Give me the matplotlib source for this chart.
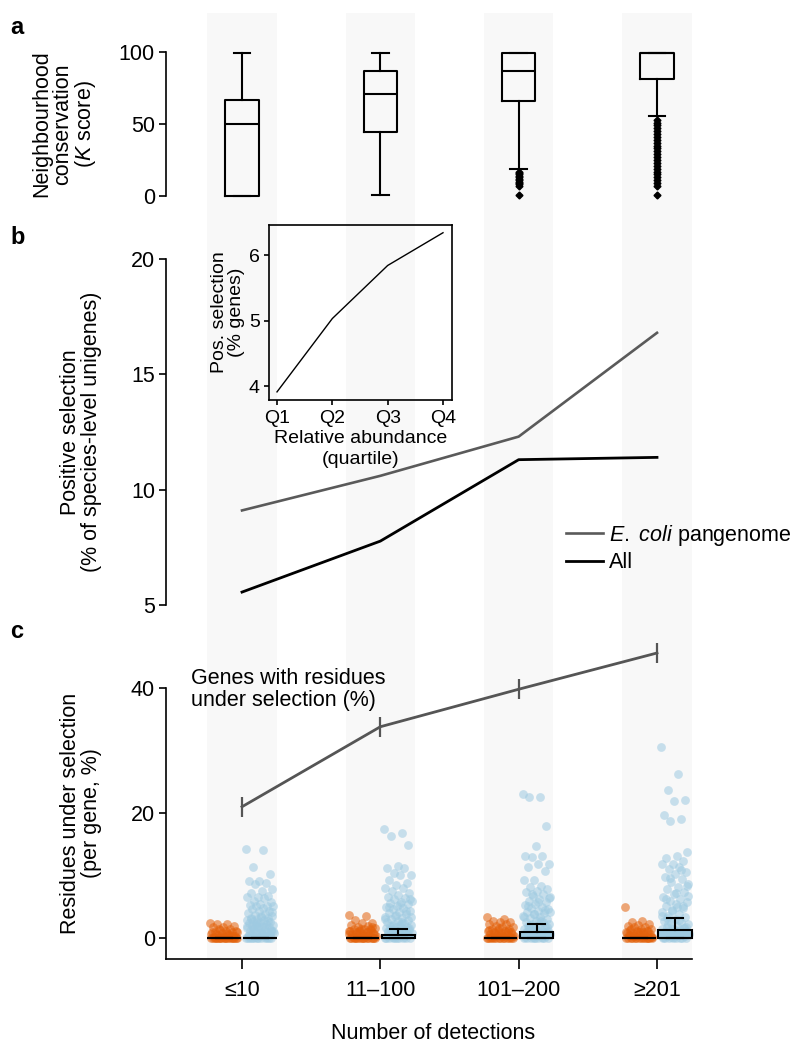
import numpy as np
import matplotlib
matplotlib.use("Agg")
import matplotlib.pyplot as plt

plt.rcParams['font.family'] = ['Liberation Sans', 'DejaVu Sans']
plt.rcParams['mathtext.fontset'] = 'custom'
plt.rcParams['mathtext.rm'] = 'Liberation Sans'
plt.rcParams['mathtext.it'] = 'Liberation Sans:italic'

# ---- data ----
categories = ["≤10", "11–100", "101–200", "≥201"]

# panel a: box summaries of K score
k_q1 = [0, 44.6, 66, 81]
k_med = [50, 71, 87, 99]
k_q3 = [66.7, 87, 99, 99]
k_whislo = [0, 0.5, 19, 55.6]
k_whishi = [99, 99, 99, 99]
k_fliers = [
    [],
    [],
    [17, 16, 15, 14, 13, 12, 11, 10, 9, 8, 7, 1],
    [53, 51, 49, 47, 45, 43, 41, 39, 37, 35, 33, 31, 29, 27, 25, 23, 21,
     19, 17, 15, 13, 11, 9, 7, 1],
]

# panel b
ecoli_pos = [9.1, 10.6, 12.3, 16.8]
all_pos = [5.56, 7.77, 11.3, 11.4]

# inset
quartiles = ["Q1", "Q2", "Q3", "Q4"]
quartile_pos = [3.91, 5.03, 5.84, 6.34]

# panel c: line with error bars
genes_sel = [21.0, 33.8, 39.8, 45.6]
genes_sel_err = [1.6, 1.6, 1.6, 1.6]

# panel c: per-gene residues (orange / blue groups)
orange_vals = [
    [2.4, 2.2, 2.2, 2.0, 1.8, 1.7, 1.5, 1.4, 1.2, 1.1, 1.0, 0.9, 0.8, 0.7,
     0.6, 0.5, 0.4, 0.3, 0.2, 0.1, 1.3, 1.0, 0.8, 0.6, 0.4, 0.2, 0.9, 0.5,
     0, 0, 0, 0, 0, 0, 0, 0, 0, 0, 0, 0, 0, 0, 0, 0, 0, 0],
    [3.7, 3.5, 2.9, 2.4, 2.4, 2.1, 1.9, 1.8, 1.6, 1.5, 1.4, 1.3, 1.2, 1.1,
     1.0, 0.9, 0.8, 0.7, 0.6, 0.5, 0.4, 0.3, 0.2, 0.1, 1.7, 1.5, 1.2, 1.0,
     0.8, 0.6, 0.4, 0.2, 1.4, 1.1, 0.7, 0.3, 0, 0, 0, 0, 0, 0, 0, 0, 0, 0,
     0, 0, 0, 0, 0, 0],
    [3.4, 3.0, 2.8, 2.6, 2.5, 2.3, 2.2, 2.0, 1.8, 1.7, 1.5, 1.4, 1.3, 1.2,
     1.1, 1.0, 0.9, 0.8, 0.7, 0.6, 0.5, 0.4, 0.3, 0.2, 0.1, 1.6, 1.3, 1.0,
     0.8, 0.6, 0.4, 0.2, 1.1, 0.7, 0, 0, 0, 0, 0, 0, 0, 0, 0, 0, 0, 0, 0,
     0],
    [4.9, 2.8, 2.5, 2.3, 2.1, 2.0, 1.8, 1.7, 1.5, 1.4, 1.3, 1.2, 1.1, 1.0,
     0.9, 0.8, 0.7, 0.6, 0.5, 0.4, 0.3, 0.2, 0.1, 1.5, 1.2, 1.0, 0.8, 0.6,
     0.4, 0.2, 0.9, 0.5, 0, 0, 0, 0, 0, 0, 0, 0, 0, 0, 0, 0, 0, 0],
]
blue_vals = [
    [14.3, 14.1, 11.3, 10.2, 9.2, 9.2, 8.8, 8.7, 7.9, 7.5, 7.2, 6.7, 6.5,
     6.5, 6.4, 6.0, 5.8, 5.5, 5.3, 5.1, 5.1, 5.1, 4.8, 4.6, 4.3, 4.3, 4.0,
     3.9, 3.7, 3.5, 3.4, 3.2, 3.2, 3.0, 2.9, 2.9, 2.7, 2.6, 2.5, 2.4, 2.3,
     2.2, 2.1, 2.0, 1.9, 1.8, 1.7, 1.6, 1.5, 1.4, 1.3, 1.2, 1.1, 1.0, 0.9,
     0.8, 0.7, 0.6, 0.5, 0.4, 0.3, 0.2, 0.1, 4.1, 3.6, 3.1, 2.8, 2.4, 2.0,
     1.7, 1.4, 1.1, 0.8, 0.5, 0.3, 1.9, 1.2, 0.6, 0, 0, 0, 0, 0, 0, 0, 0,
     0, 0, 0, 0],
    [17.5, 16.8, 16.3, 14.9, 11.5, 11.2, 11.2, 10.4, 10.1, 10.1, 9.3, 8.8,
     8.5, 8.0, 8.0, 7.5, 7.2, 6.9, 6.6, 6.4, 6.2, 6.0, 5.8, 5.6, 5.4, 5.2,
     5.0, 4.8, 4.6, 4.4, 4.2, 4.0, 3.8, 3.6, 3.4, 3.2, 3.0, 2.9, 2.7, 2.6,
     2.4, 2.3, 2.1, 2.0, 1.9, 1.8, 1.7, 1.6, 1.5, 1.4, 1.3, 1.2, 1.1, 1.0,
     0.9, 0.8, 0.7, 0.6, 0.5, 0.4, 0.3, 0.2, 0.1, 6.3, 5.5, 4.9, 4.3, 3.7,
     3.1, 2.5, 2.0, 1.6, 1.2, 0.9, 0.6, 0.3, 3.4, 2.2, 1.3, 0.7, 0, 0, 0,
     0, 0, 0, 0, 0, 0, 0],
    [23.0, 22.5, 22.5, 17.9, 14.7, 13.2, 13.2, 13.0, 11.9, 11.8, 11.3, 10.7,
     9.3, 9.3, 8.4, 8.2, 7.9, 7.6, 7.3, 7.0, 6.8, 6.5, 6.2, 6.0, 5.8, 5.5,
     5.3, 5.0, 4.8, 4.6, 4.4, 4.2, 4.0, 3.8, 3.6, 3.4, 3.2, 3.0, 2.8, 2.6,
     2.5, 2.3, 2.2, 2.0, 1.9, 1.8, 1.6, 1.5, 1.4, 1.3, 1.2, 1.1, 1.0, 0.9,
     0.8, 0.7, 0.6, 0.5, 0.4, 0.3, 0.2, 0.1, 7.1, 6.4, 5.7, 5.1, 4.5, 3.9,
     3.3, 2.7, 2.1, 1.7, 1.3, 0.9, 0.5, 0.2, 4.2, 2.9, 1.8, 1.0, 0, 0, 0,
     0, 0, 0, 0, 0, 0],
    [30.6, 26.3, 23.7, 22.1, 22.0, 19.7, 19.0, 18.8, 13.7, 13.2, 12.8, 12.4,
     11.9, 11.8, 11.4, 11.0, 10.6, 10.2, 9.8, 9.4, 9.0, 8.6, 8.2, 7.8, 7.4,
     7.0, 6.6, 6.3, 6.0, 5.7, 5.4, 5.1, 4.8, 4.5, 4.2, 3.9, 3.6, 3.3, 3.0,
     2.8, 2.6, 2.4, 2.2, 2.0, 1.8, 1.6, 1.5, 1.4, 1.3, 1.2, 1.1, 1.0, 0.9,
     0.8, 0.7, 0.6, 0.5, 0.4, 0.3, 0.2, 0.1, 10.9, 9.6, 8.4, 7.2, 6.2, 5.2,
     4.4, 3.6, 2.9, 2.3, 1.8, 1.3, 0.9, 0.5, 0.2, 6.8, 4.9, 3.2, 1.6, 0, 0,
     0, 0, 0, 0, 0, 0],
]
# box summaries for the blue groups (orange ones are all zero)
blue_q3 = [0, 0.55, 0.9, 1.3]
blue_whishi = [0, 1.5, 2.25, 3.15]

# ---- layout helpers ----
W, H = 800, 1053
fig = plt.figure(figsize=(W / 100, H / 100), dpi=100)


def box(l, t, r, b):
    return [l / W, 1 - b / H, (r - l) / W, (b - t) / H]


x = np.arange(len(categories))
xlim = ((166 - 242) / 138.33, 3 + (700 - 657) / 138.33)
LW = 1.2
FS = 15.5
ORANGE = "#e3620c"
BLUE = "#9ecae1"
GRAY = "#555555"

# background bands
bg = fig.add_axes(box(166, 13, 700, 959), zorder=-5)
bg.set_xlim(xlim)
bg.set_ylim(0, 1)
bg.axis("off")
for xi in x:
    bg.axvspan(xi - 0.25, xi + 0.25, color="#f8f8f8", lw=0)


def style_axis(ax, lo, hi):
    ax.patch.set_alpha(0)
    for s in ["top", "right", "bottom"]:
        ax.spines[s].set_visible(False)
    ax.spines["left"].set_linewidth(LW)
    ax.spines["left"].set_bounds(lo, hi)
    ax.set_xlim(xlim)
    ax.set_xticks([])
    ax.tick_params(axis="y", length=5, width=LW, pad=3, labelsize=FS)


# ---- panel a ----
ax_a = fig.add_axes(box(166, 40, 700, 205))
style_axis(ax_a, 0, 100)
ax_a.set_ylim(-(205 - 196) / 1.44, 100 + (52 - 40) / 1.44)
ax_a.set_yticks([0, 50, 100])
stats_a = []
for i in range(len(categories)):
    stats_a.append(dict(med=k_med[i], q1=k_q1[i], q3=k_q3[i],
                        whislo=k_whislo[i], whishi=k_whishi[i],
                        fliers=k_fliers[i]))
lp = dict(color="black", lw=1.5)
ax_a.bxp(stats_a, positions=x, widths=0.24, boxprops=lp, whiskerprops=lp,
         capprops=lp, medianprops=lp,
         flierprops=dict(marker="D", markersize=3.5, markerfacecolor="black",
                         markeredgecolor="black"),
         manage_ticks=False)
ax_a.set_ylabel("Neighbourhood\nconservation\n($K$ score)", fontsize=FS,
                linespacing=1.0)
ax_a.yaxis.set_label_coords(98 / W, 1 - 124 / H, transform=fig.transFigure)

# ---- panel b ----
ax_b = fig.add_axes(box(166, 240, 700, 615))
style_axis(ax_b, 5, 20)
ax_b.set_ylim(5 - 10 / 23.07, 20 + 19 / 23.07)
ax_b.set_yticks([5, 10, 15, 20])
ax_b.plot(x, ecoli_pos, color="#5a5a5a", lw=1.9, label=r"$\it{E.\ coli}$ pangenome")
ax_b.plot(x, all_pos, color="black", lw=2.0, label="All")
ax_b.set_ylabel("Positive selection\n(% of species-level unigenes)", fontsize=FS,
                linespacing=1.0)
ax_b.yaxis.set_label_coords(102 / W, 1 - 432 / H, transform=fig.transFigure)
fig.legend(*ax_b.get_legend_handles_labels(), loc="center left",
           bbox_to_anchor=(566 / W, 1 - 548 / H), frameon=False, fontsize=FS,
           handlelength=1.7, handletextpad=0.3, labelspacing=0.2,
           borderpad=0, borderaxespad=0)

# inset
ax_in = fig.add_axes(box(269, 225, 452, 400))
ax_in.patch.set_alpha(0)
for s in ax_in.spines.values():
    s.set_linewidth(LW)
ax_in.set_xlim((269 - 277) / 55.33, 3 + (452 - 443) / 55.33)
ax_in.set_ylim(4 - 14 / 65.5, 6 + 30 / 65.5)
ax_in.plot(range(len(quartiles)), quartile_pos, color="black", lw=1.0)
ax_in.set_xticks(range(len(quartiles)))
ax_in.set_xticklabels(quartiles)
ax_in.set_yticks([4, 5, 6])
ax_in.tick_params(length=3.5, width=LW, pad=3, labelsize=14)
ax_in.tick_params(axis="x", pad=4)
ax_in.set_xlabel("Relative abundance\n(quartile)", fontsize=14,
                 linespacing=1.3, labelpad=2)
ax_in.set_ylabel("Pos. selection\n(% genes)", fontsize=14, linespacing=1.0,
                 labelpad=3)

# ---- panel c ----
ax_c = fig.add_axes(box(166, 640, 700, 959))
style_axis(ax_c, -(959 - 938) / 6.25, 40)
ax_c.spines["bottom"].set_visible(True)
ax_c.spines["bottom"].set_linewidth(LW)
ax_c.spines["bottom"].set_bounds(xlim[0], 3.25)
ax_c.set_ylim(-(959 - 938) / 6.25, 40 + (688 - 640) / 6.25)
ax_c.set_yticks([0, 20, 40])
ax_c.set_xticks(x)
ax_c.set_xticklabels(categories)
ax_c.tick_params(axis="x", length=7, width=LW, pad=8, labelsize=FS)

off = 0.13
for i in range(len(categories)):
    for vals, c, sgn in [(orange_vals[i], ORANGE, -1), (blue_vals[i], BLUE, 1)]:
        n = len(vals)
        jit = ((np.arange(n) * 0.618034) % 1 - 0.5) * 0.2
        ax_c.scatter(x[i] + sgn * off + jit, vals, s=40, color=c, alpha=0.55,
                     lw=0, zorder=2)

stats_o = [dict(med=0, q1=0, q3=0, whislo=0, whishi=0, fliers=[])
           for _ in categories]
stats_b = [dict(med=0, q1=0, q3=blue_q3[i], whislo=0, whishi=blue_whishi[i],
                fliers=[]) for i in range(len(categories))]
bp = dict(color="black", lw=1.5)
ax_c.bxp(stats_o, positions=x - off, widths=0.24, patch_artist=True,
         boxprops=dict(facecolor=ORANGE, edgecolor="black", lw=1.5),
         whiskerprops=bp, capprops=bp, medianprops=bp, showfliers=False,
         manage_ticks=False, zorder=3)
ax_c.bxp(stats_b, positions=x + off, widths=0.24, patch_artist=True,
         boxprops=dict(facecolor=BLUE, edgecolor="black", lw=1.5),
         whiskerprops=bp, capprops=bp, medianprops=bp, showfliers=False,
         manage_ticks=False, zorder=3)

ax_c.errorbar(x, genes_sel, yerr=genes_sel_err, color=GRAY, lw=2,
              elinewidth=1.6, capsize=0, zorder=4, clip_on=False)
fig.text(191 / W, 1 - 668 / H, "Genes with residues\nunder selection (%)",
         fontsize=FS, va="top", ha="left", linespacing=1.05)

ax_c.set_ylabel("Residues under selection\n(per gene, %)", fontsize=FS,
                linespacing=1.0)
ax_c.yaxis.set_label_coords(102 / W, 1 - 813 / H, transform=fig.transFigure)
ax_c.set_xlabel("Number of detections", fontsize=FS, labelpad=16)

# panel letters
for lab, yy in [("a", 28), ("b", 238), ("c", 632)]:
    fig.text(10 / W, 1 - yy / H, lab, fontsize=17, fontweight="bold",
             va="center", ha="left")

fig.savefig("out.png", dpi=100)
